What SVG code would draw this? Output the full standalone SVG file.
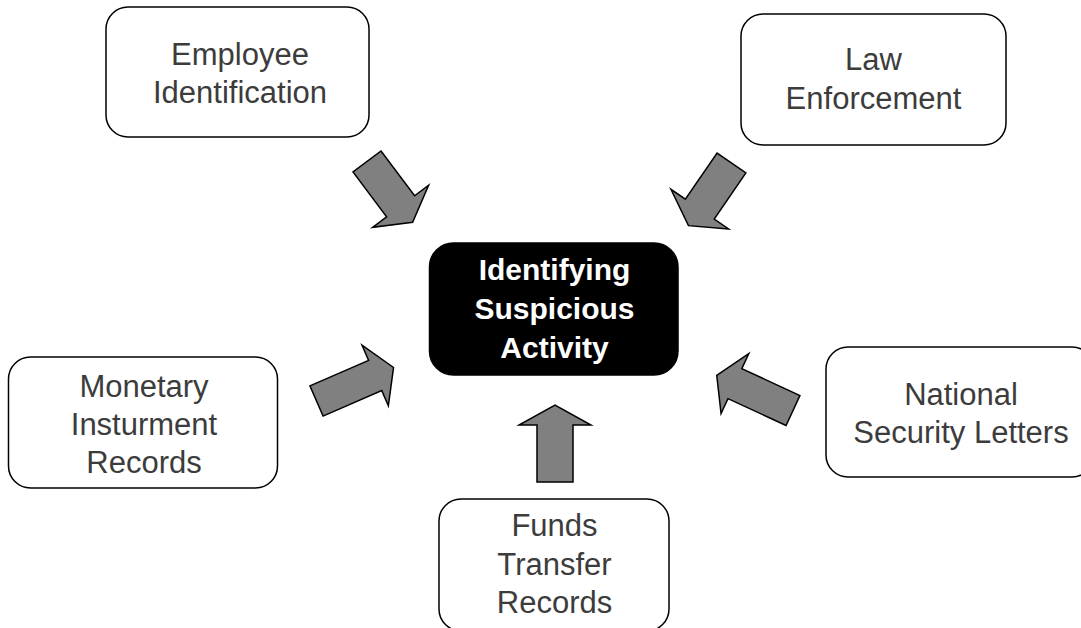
<svg xmlns="http://www.w3.org/2000/svg" width="1081" height="628" viewBox="0 0 1081 628">
  <style>
    .box { fill: #ffffff; stroke: #000000; stroke-width: 1.5; }
    .hub { fill: #000000; stroke: #000000; stroke-width: 1.5; }
    .lbl { font-family: "Liberation Sans", Arial, sans-serif; font-size: 31px; fill: #3c3c3c; text-anchor: middle; }
    .hubtxt { font-family: "Liberation Sans", Arial, sans-serif; font-size: 30px; font-weight: bold; fill: #ffffff; text-anchor: middle; }
    .arrow { fill: #808080; stroke: #000000; stroke-width: 1.5; stroke-linejoin: miter; }
  </style>
  <defs>
    <!-- block arrows drawn pointing along +x from the tail centre -->
    <polygon id="arrow76" points="0,-17.5 56,-17.5 56,-35 76,0 56,35 56,17.5 0,17.5"/>
    <polygon id="arrow84" points="0,-16.5 64,-16.5 64,-33 84,0 64,33 64,16.5 0,16.5"/>
  </defs>

  <rect width="1081" height="628" fill="#ffffff"/>

  <!-- block arrows feeding the central node -->
  <g id="connectors">
    <use href="#arrow76" class="arrow" transform="translate(367,161.5) rotate(53.1)"/>
    <use href="#arrow76" class="arrow" transform="translate(731.5,163) rotate(124.5)"/>
    <use href="#arrow84" class="arrow" transform="translate(316.5,401) rotate(-23.5)"/>
    <use href="#arrow84" class="arrow" transform="translate(793,410.5) rotate(-155.2)"/>
    <polygon class="arrow" points="537,482 537,425 519,425 555,405 591,425 573,425 573,482"/>
  </g>

  <g id="employee-identification">
    <rect class="box" x="106" y="7" width="263" height="130" rx="22"/>
    <text class="lbl" x="240" y="65">Employee</text>
    <text class="lbl" x="240" y="103">Identification</text>
  </g>

  <g id="law-enforcement">
    <rect class="box" x="741" y="14" width="265" height="131" rx="22"/>
    <text class="lbl" x="873.5" y="70">Law</text>
    <text class="lbl" x="873.5" y="109">Enforcement</text>
  </g>

  <g id="monetary-instrument-records">
    <rect class="box" x="8.5" y="357" width="269" height="131" rx="22"/>
    <text class="lbl" x="144" y="397">Monetary</text>
    <text class="lbl" x="144" y="435">Insturment</text>
    <text class="lbl" x="144" y="473">Records</text>
  </g>

  <g id="national-security-letters">
    <rect class="box" x="826" y="347" width="268" height="130" rx="22"/>
    <text class="lbl" x="961" y="405">National</text>
    <text class="lbl" x="961" y="443">Security Letters</text>
  </g>

  <g id="funds-transfer-records">
    <rect class="box" x="439" y="499" width="230" height="132" rx="22"/>
    <text class="lbl" x="554.5" y="536">Funds</text>
    <text class="lbl" x="554.5" y="575">Transfer</text>
    <text class="lbl" x="554.5" y="613">Records</text>
  </g>

  <g id="identifying-suspicious-activity">
    <rect class="hub" x="429.5" y="243" width="248.5" height="132" rx="24"/>
    <text class="hubtxt" x="554.5" y="280">Identifying</text>
    <text class="hubtxt" x="554.5" y="319">Suspicious</text>
    <text class="hubtxt" x="554.5" y="358">Activity</text>
  </g>
</svg>
